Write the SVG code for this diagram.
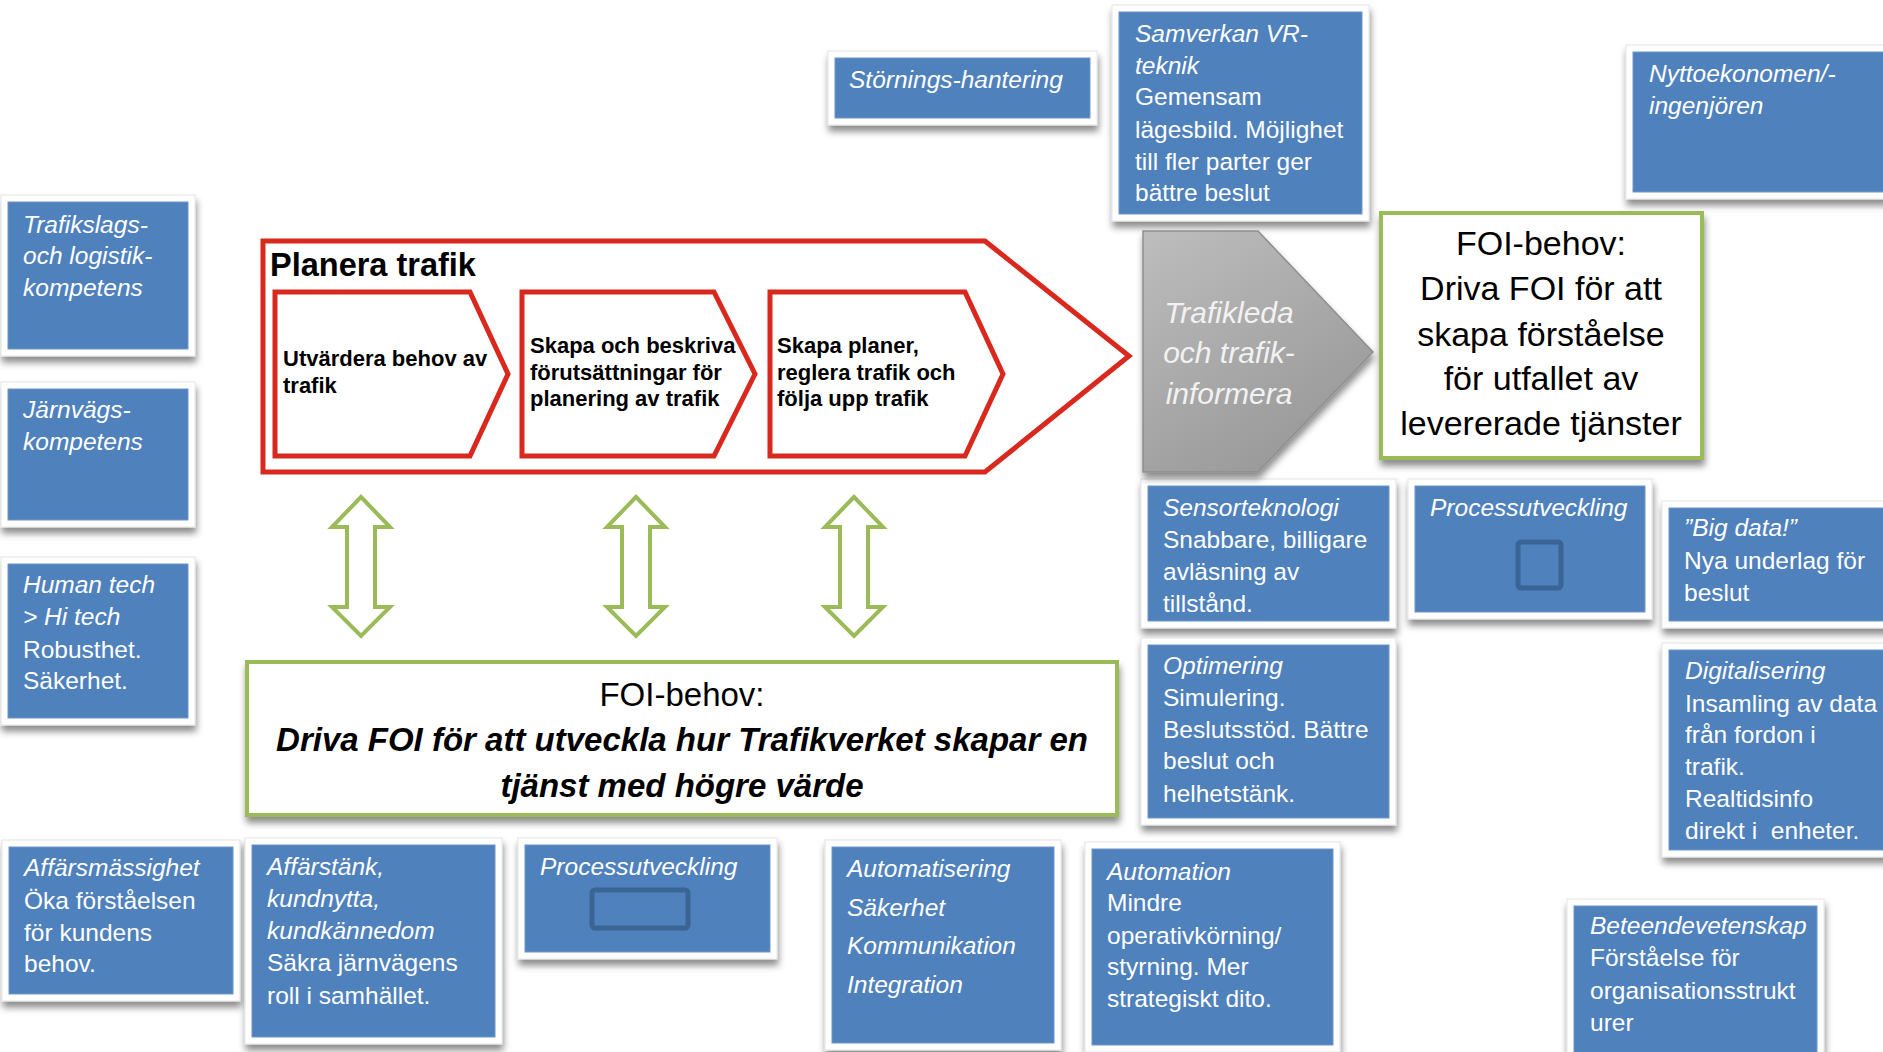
<svg xmlns="http://www.w3.org/2000/svg" width="1883" height="1052" viewBox="0 0 1883 1052">
<defs>
<filter id="sh" x="-10%" y="-10%" width="120%" height="130%">
<feDropShadow dx="1" dy="6" stdDeviation="3.5" flood-color="#000" flood-opacity="0.45"/>
</filter>
<linearGradient id="grey" x1="0" y1="0" x2="0.6" y2="1">
<stop offset="0" stop-color="#BDBDBD"/>
<stop offset="1" stop-color="#999999"/>
</linearGradient>
</defs>
<style>
.card{fill:#fff;stroke:#e4e4e4;stroke-width:1;filter:url(#sh)}
.box{fill:#4F81BD;stroke:#6E97C8;stroke-width:1}
.inner{fill:none;stroke:#3A6494;stroke-width:5}
.t{font-family:"Liberation Sans",Arial,sans-serif;font-size:24.5px;fill:#fff}
.i{font-style:italic}
.red{fill:#fff;stroke:#D9291E;stroke-width:5;stroke-linejoin:miter}
.ct{font-family:"Liberation Sans",Arial,sans-serif;font-size:22px;font-weight:bold;fill:#000}
.green{fill:#fff;stroke:#9BBB59;stroke-width:4}
.ft{font-family:"Liberation Sans",Arial,sans-serif;fill:#000;text-anchor:middle}
</style>
<rect width="1883" height="1052" fill="#fff"/>

<g id="trafikslags">
<rect class="card" x="1" y="195" width="194" height="161"/>
<rect class="box" x="8" y="202" width="180" height="147"/>
<text class="t i" x="23"><tspan x="23" y="233">Trafikslags-</tspan><tspan x="23" y="264">och logistik-</tspan><tspan x="23" y="296">kompetens</tspan></text>
</g>
<g id="jarnvags">
<rect class="card" x="1" y="382" width="194" height="145"/>
<rect class="box" x="8" y="389" width="180" height="131"/>
<text class="t i"><tspan x="23" y="418">Järnvägs-</tspan><tspan x="23" y="450">kompetens</tspan></text>
</g>
<g id="humantech">
<rect class="card" x="1" y="557" width="194" height="168"/>
<rect class="box" x="8" y="564" width="180" height="154"/>
<text class="t"><tspan class="i" x="23" y="593">Human tech</tspan><tspan class="i" x="23" y="625">&gt; Hi tech</tspan><tspan x="23" y="658">Robusthet.</tspan><tspan x="23" y="689">Säkerhet.</tspan></text>
</g>
<g id="affarsmassighet">
<rect class="card" x="2" y="840" width="238" height="161"/>
<rect class="box" x="9" y="847" width="224" height="147"/>
<text class="t"><tspan class="i" x="24" y="876">Affärsmässighet</tspan><tspan x="24" y="909">Öka förståelsen</tspan><tspan x="24" y="941">för kundens</tspan><tspan x="24" y="972">behov.</tspan></text>
</g>
<g id="affarstank">
<rect class="card" x="245" y="838" width="257" height="206"/>
<rect class="box" x="252" y="845" width="243" height="192"/>
<text class="t"><tspan class="i" x="267" y="875">Affärstänk,</tspan><tspan class="i" x="267" y="907">kundnytta,</tspan><tspan class="i" x="267" y="939">kundkännedom</tspan><tspan x="267" y="971">Säkra järnvägens</tspan><tspan x="267" y="1004">roll i samhället.</tspan></text>
</g>
<g id="processutveckling-bottom">
<rect class="card" x="518" y="838" width="259" height="121"/>
<rect class="box" x="525" y="845" width="245" height="107"/>
<text class="t i" x="540" y="875">Processutveckling</text>
<rect class="inner" x="592" y="890" width="96" height="38" rx="3"/>
</g>
<g id="automatisering">
<rect class="card" x="825" y="840" width="236" height="210"/>
<rect class="box" x="832" y="847" width="222" height="196"/>
<text class="t i"><tspan x="847" y="877">Automatisering</tspan><tspan x="847" y="916">Säkerhet</tspan><tspan x="847" y="954">Kommunikation</tspan><tspan x="847" y="993">Integration</tspan></text>
</g>
<g id="automation">
<rect class="card" x="1085" y="842" width="255" height="210"/>
<rect class="box" x="1092" y="849" width="241" height="196"/>
<text class="t"><tspan class="i" x="1107" y="880">Automation</tspan><tspan x="1107" y="911">Mindre</tspan><tspan x="1107" y="944">operativkörning/</tspan><tspan x="1107" y="975">styrning. Mer</tspan><tspan x="1107" y="1007">strategiskt dito.</tspan></text>
</g>
<g id="beteendevetenskap">
<rect class="card" x="1567" y="899" width="257" height="170"/>
<rect class="box" x="1574" y="906" width="243" height="160"/>
<text class="t"><tspan class="i" x="1590" y="934">Beteendevetenskap</tspan><tspan x="1590" y="966">Förståelse för</tspan><tspan x="1590" y="999">organisationsstrukt</tspan><tspan x="1590" y="1031">urer</tspan></text>
</g>
<g id="sensorteknologi">
<rect class="card" x="1141" y="479" width="255" height="149"/>
<rect class="box" x="1148" y="486" width="241" height="135"/>
<text class="t"><tspan class="i" x="1163" y="516">Sensorteknologi</tspan><tspan x="1163" y="548">Snabbare, billigare</tspan><tspan x="1163" y="580">avläsning av</tspan><tspan x="1163" y="612">tillstånd.</tspan></text>
</g>
<g id="processutveckling-right">
<rect class="card" x="1408" y="479" width="244" height="140"/>
<rect class="box" x="1415" y="486" width="230" height="126"/>
<text class="t i" x="1430" y="516">Processutveckling</text>
<rect class="inner" x="1518" y="542" width="43" height="46" rx="3"/>
</g>
<g id="bigdata">
<rect class="card" x="1662" y="501" width="240" height="127"/>
<rect class="box" x="1669" y="508" width="230" height="113"/>
<text class="t"><tspan class="i" x="1684" y="536">”Big data!”</tspan><tspan x="1684" y="569">Nya underlag för</tspan><tspan x="1684" y="601">beslut</tspan></text>
</g>
<g id="optimering">
<rect class="card" x="1141" y="638" width="255" height="187"/>
<rect class="box" x="1148" y="645" width="241" height="173"/>
<text class="t"><tspan class="i" x="1163" y="674">Optimering</tspan><tspan x="1163" y="706">Simulering.</tspan><tspan x="1163" y="738">Beslutsstöd. Bättre</tspan><tspan x="1163" y="769">beslut och</tspan><tspan x="1163" y="802">helhetstänk.</tspan></text>
</g>
<g id="digitalisering">
<rect class="card" x="1662" y="643" width="240" height="214"/>
<rect class="box" x="1669" y="650" width="230" height="200"/>
<text class="t"><tspan class="i" x="1685" y="679">Digitalisering</tspan><tspan x="1685" y="712">Insamling av data</tspan><tspan x="1685" y="743">från fordon i</tspan><tspan x="1685" y="775">trafik.</tspan><tspan x="1685" y="807">Realtidsinfo</tspan><tspan x="1685" y="839">direkt i&#160; enheter.</tspan></text>
</g>
<g id="samverkan">
<rect class="card" x="1112" y="5" width="257" height="216"/>
<rect class="box" x="1119" y="12" width="243" height="202"/>
<text class="t"><tspan class="i" x="1135" y="42">Samverkan VR-</tspan><tspan class="i" x="1135" y="74">teknik</tspan><tspan x="1135" y="105">Gemensam</tspan><tspan x="1135" y="138">lägesbild. Möjlighet</tspan><tspan x="1135" y="170">till fler parter ger</tspan><tspan x="1135" y="201">bättre beslut</tspan></text>
</g>
<g id="nyttoekonomen">
<rect class="card" x="1626" y="45" width="270" height="154"/>
<rect class="box" x="1633" y="52" width="260" height="140"/>
<text class="t i"><tspan x="1649" y="82">Nyttoekonomen/-</tspan><tspan x="1649" y="114">ingenjören</tspan></text>
</g>
<g id="storningshantering">
<rect class="card" x="828" y="51" width="269" height="74"/>
<rect class="box" x="835" y="58" width="255" height="60"/>
<text class="t i" x="849" y="88">Störnings-hantering</text>
</g>

<g id="planera-trafik">
<path class="red" d="M263,241 L985,241 L1129,356 L985,472 L263,472 Z"/>
<text x="270" y="276" style="font-family:'Liberation Sans',Arial,sans-serif;font-size:32.5px;font-weight:bold;fill:#000">Planera trafik</text>
</g>
<g id="utvardera">
<path class="red" d="M275,292 L470,292 L508,374 L470,456 L275,456 Z"/>
<text class="ct"><tspan x="283" y="366">Utvärdera behov av</tspan><tspan x="283" y="393">trafik</tspan></text>
</g>
<g id="skapa-beskriva">
<path class="red" d="M522,292 L714,292 L755,374 L714,456 L522,456 Z"/>
<text class="ct"><tspan x="530" y="353">Skapa och beskriva</tspan><tspan x="530" y="380">förutsättningar för</tspan><tspan x="530" y="406">planering av trafik</tspan></text>
</g>
<g id="skapa-planer">
<path class="red" d="M770,292 L965,292 L1003,374 L965,456 L770,456 Z"/>
<text class="ct"><tspan x="777" y="353">Skapa planer,</tspan><tspan x="777" y="380">reglera trafik och</tspan><tspan x="777" y="406">följa upp trafik</tspan></text>
</g>

<g id="trafikleda">
<path d="M1143,231 L1258,231 L1373,352 L1258,472 L1143,472 Z" fill="url(#grey)" stroke="#8F8F8F" stroke-width="1.5" filter="url(#sh)"/>
<text class="ft i" style="font-size:30px;fill:#F2F2F2"><tspan x="1229" y="323">Trafikleda</tspan><tspan x="1229" y="363">och trafik-</tspan><tspan x="1229" y="404">informera</tspan></text>
</g>

<g id="foi-right">
<rect class="green" x="1381" y="213" width="321" height="245" filter="url(#sh)"/>
<text class="ft" style="font-size:34px"><tspan x="1541" y="255">FOI-behov:</tspan><tspan x="1541" y="300">Driva FOI för att</tspan><tspan x="1541" y="346">skapa förståelse</tspan><tspan x="1541" y="390">för utfallet av</tspan><tspan x="1541" y="435">levererade tjänster</tspan></text>
</g>

<g id="foi-bottom">
<rect class="green" x="247" y="662" width="870" height="153" filter="url(#sh)"/>
<text class="ft" x="682" y="706" style="font-size:33px">FOI-behov:</text>
<text class="ft" style="font-size:33px;font-weight:bold;font-style:italic"><tspan x="682" y="751">Driva FOI för att utveckla hur Trafikverket skapar en</tspan><tspan x="682" y="797">tjänst med högre värde</tspan></text>
</g>

<g id="connectors" fill="#fff" stroke="#9BBB59" stroke-width="4" stroke-linejoin="miter">
<path d="M361,497 L390,527 L375,527 L375,607 L390,607 L361,636 L332,607 L347,607 L347,527 L332,527 Z"/>
<path d="M636,497 L665,527 L650,527 L650,607 L665,607 L636,636 L607,607 L622,607 L622,527 L607,527 Z"/>
<path d="M854,497 L883,527 L868,527 L868,607 L883,607 L854,636 L825,607 L840,607 L840,527 L825,527 Z"/>
</g>
</svg>
